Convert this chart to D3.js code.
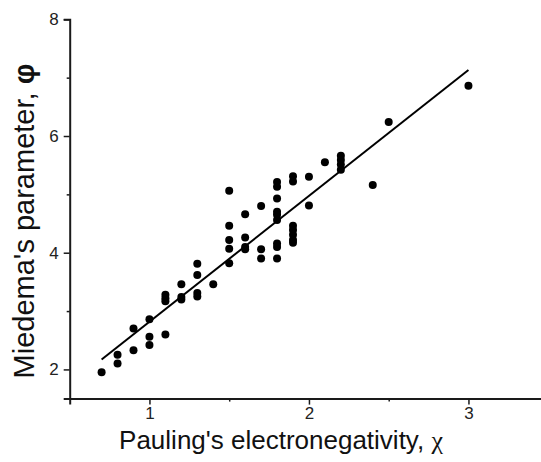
<!DOCTYPE html>
<html>
<head>
<meta charset="utf-8">
<script src="https://cdn.jsdelivr.net/npm/d3@7"></script>
<style>
  html, body { margin: 0; padding: 0; background: #fff; }
  svg { display: block; font-family: "Liberation Sans", Arial, sans-serif; }
</style>
</head>
<body>
<svg id="chart" width="541" height="462"></svg>
<script>
// Data
const chiValues = [0.7, 0.8, 0.8, 0.9, 0.9, 1.0, 1.0, 1.0, 1.1, 1.1, 1.1, 1.1, 1.2, 1.2, 1.2,
  1.3, 1.3, 1.3, 1.3, 1.4, 1.5, 1.5, 1.5, 1.5, 1.5, 1.6, 1.6, 1.6, 1.6, 1.7, 1.7, 1.7,
  1.8, 1.8, 1.8, 1.8, 1.8, 1.8, 1.8, 1.8, 1.8, 1.9, 1.9, 1.9, 1.9, 1.9, 1.9, 1.9,
  2.0, 2.0, 2.1, 2.2, 2.2, 2.2, 2.2, 2.4, 2.5, 3.0];
const phiValues = [1.95, 2.10, 2.25, 2.33, 2.70, 2.42, 2.56, 2.86, 2.60, 3.17, 3.22, 3.28, 3.20, 3.24, 3.46,
  3.25, 3.31, 3.62, 3.81, 3.46, 3.82, 4.07, 4.22, 4.46, 5.06, 4.06, 4.10, 4.26, 4.66, 3.90, 4.06, 4.80,
  3.90, 4.10, 4.16, 4.56, 4.65, 4.70, 4.93, 5.13, 5.21, 4.17, 4.22, 4.31, 4.39, 4.46, 5.22, 5.31,
  4.81, 5.30, 5.55, 5.42, 5.51, 5.59, 5.66, 5.16, 6.24, 6.86];
const fitChi = [0.7, 3.0];
const fitPhi = [2.17, 7.13];
const xMajorTicks = [1, 2, 3];
const xMinorTicks = [1.5, 2.5, 3.5];
const yMajorTicks = [2, 4, 6, 8];
const yMinorTicks = [3, 5, 7];
const xTitle = "Pauling's electronegativity, ";
const xSymbol = "\u03C7";
const yTitle = "Miedema's parameter, ";
const ySymbol = "\u03C6";

const svg = d3.select("#chart");
const x = d3.scaleLinear().domain([0.5, 3.5]).range([69.7, 548.2]);
const y = d3.scaleLinear().domain([1.5, 8]).range([398.6, 19.3]);

const axisColor = "#1a1a1a";

// x axis
const gx = svg.append("g").attr("transform", `translate(0,${y(1.5)})`);
gx.call(d3.axisBottom(x).tickValues(xMajorTicks).tickSize(6).tickPadding(2).tickFormat(d3.format("d")));
const gxm = svg.append("g").attr("transform", `translate(0,${y(1.5)})`);
gxm.call(d3.axisBottom(x).tickValues(xMinorTicks).tickSize(3).tickFormat(""));
gxm.select(".domain").remove();

// y axis
const gy = svg.append("g").attr("transform", `translate(${x(0.5)},0)`);
gy.call(d3.axisLeft(y).tickValues(yMajorTicks).tickSize(6).tickPadding(5).tickFormat(d3.format("d")));
const gym = svg.append("g").attr("transform", `translate(${x(0.5)},0)`);
gym.call(d3.axisLeft(y).tickValues(yMinorTicks).tickSize(3).tickFormat(""));
gym.select(".domain").remove();

svg.selectAll(".domain").attr("stroke", axisColor).attr("stroke-width", 2);
svg.selectAll(".tick line").attr("stroke", axisColor).attr("stroke-width", 1.5);
svg.selectAll(".tick text").attr("fill", "#222").style("font-size", "17px")
  .style("font-family", "'Liberation Sans', Arial, sans-serif");

// regression line
svg.append("line")
  .attr("x1", x(fitChi[0])).attr("y1", y(fitPhi[0]))
  .attr("x2", x(fitChi[1])).attr("y2", y(fitPhi[1]))
  .attr("stroke", "#000").attr("stroke-width", 2);

// points
const pts = chiValues.map((c, i) => ({c, p: phiValues[i]}));
svg.append("g").selectAll("circle").data(pts).join("circle")
  .attr("cx", d => x(d.c)).attr("cy", d => y(d.p)).attr("r", 4).attr("fill", "#000");

// axis titles
const xt = svg.append("text")
  .attr("x", 281).attr("y", 449)
  .attr("text-anchor", "middle")
  .attr("fill", "#111")
  .style("font-size", "26px");
xt.append("tspan").text(xTitle);
xt.append("tspan").style("font-family", "'Liberation Serif', 'Times New Roman', serif").text(xSymbol);

const yt = svg.append("text")
  .attr("transform", `translate(34,221) rotate(-90)`)
  .attr("text-anchor", "middle")
  .attr("fill", "#111")
  .style("font-size", "29px");
yt.append("tspan").text(yTitle);
yt.append("tspan").style("font-weight", "bold").text(ySymbol);
</script>
</body>
</html>
